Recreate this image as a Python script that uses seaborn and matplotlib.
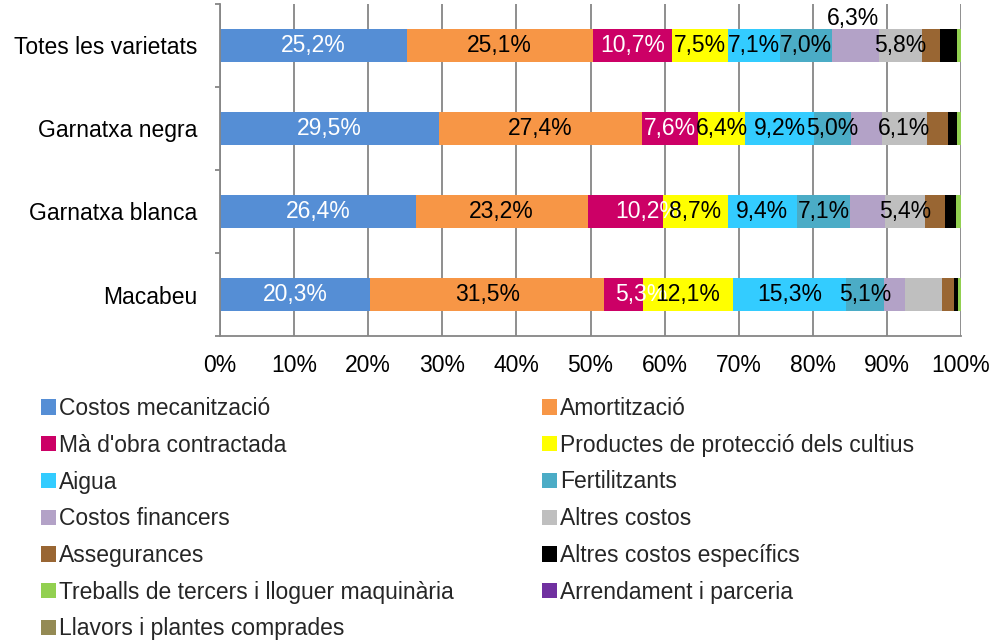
import matplotlib
matplotlib.use("Agg")
import matplotlib.pyplot as plt
from matplotlib.patches import Patch
from matplotlib.ticker import FuncFormatter, FixedLocator
import numpy as np
import pandas as pd
import seaborn as sns

# ---------------- data ----------------
categories = ["Totes les varietats", "Garnatxa negra", "Garnatxa blanca", "Macabeu"]

series_names = [
    "Costos mecanització",
    "Amortització",
    "Mà d'obra contractada",
    "Productes de protecció dels cultius",
    "Aigua",
    "Fertilitzants",
    "Costos financers",
    "Altres costos",
    "Assegurances",
    "Altres costos específics",
    "Treballs de tercers i lloguer maquinària",
    "Arrendament i parceria",
    "Llavors i plantes comprades",
]

costos_mecanitzacio = [25.2, 29.5, 26.4, 20.3]
amortitzacio = [25.1, 27.4, 23.2, 31.5]
ma_obra = [10.7, 7.6, 10.2, 5.3]
productes_proteccio = [7.5, 6.4, 8.7, 12.1]
aigua = [7.1, 9.2, 9.4, 15.3]
fertilitzants = [7.0, 5.0, 7.1, 5.1]
costos_financers = [6.3, 4.2, 4.7, 2.9]
altres_costos = [5.8, 6.1, 5.4, 5.0]
assegurances = [2.4, 2.8, 2.7, 1.5]
altres_costos_especifics = [2.3, 1.3, 1.5, 0.6]
treballs_tercers = [0.6, 0.5, 0.7, 0.4]
arrendament = [0.0, 0.0, 0.0, 0.0]
llavors = [0.0, 0.0, 0.0, 0.0]

x_ticks = [0, 10, 20, 30, 40, 50, 60, 70, 80, 90, 100]

# which data labels are shown (series index -> category indices)
labels_shown = {
    0: [0, 1, 2, 3],
    1: [0, 1, 2, 3],
    2: [0, 1, 2, 3],
    3: [0, 1, 2, 3],
    4: [0, 1, 2, 3],
    5: [0, 1, 2, 3],
    6: [0],
    7: [0, 1, 2],
}

# ---------------- styles ----------------
colors = [
    "#558ED5", "#F79646", "#CC0066", "#FFFF00", "#33CCFF", "#4BACC6",
    "#B3A2C7", "#BFBFBF", "#996633", "#000000", "#92D050", "#7030A0", "#948A54",
]
label_colors = ["white", "black", "white", "black", "black", "black",
                "black", "black"]
# label nudges in points (dx, dy) for a few labels placed off-centre
label_nudges = {(6, 0): (-1.5, 19.5), (2, 2): (16, 0), (2, 3): (13, 0)}

sns.set_style("white")
plt.rcParams["font.family"] = ["Liberation Sans", "DejaVu Sans"]
FS = 16.5
GREY = "#868686"

all_series = [costos_mecanitzacio, amortitzacio, ma_obra, productes_proteccio, aigua,
              fertilitzants, costos_financers, altres_costos, assegurances,
              altres_costos_especifics, treballs_tercers, arrendament, llavors]
vals = np.array(all_series, dtype=float)
cum = np.cumsum(vals, axis=0)

fig = plt.figure(figsize=(9.96, 6.43), dpi=100)
ax = fig.add_axes([220 / 996, 1 - 336 / 643, (961 - 220) / 996, (336 - 4) / 643])

# stacked bars: draw cumulative totals from last series to first
for k in range(len(series_names) - 1, -1, -1):
    df = pd.DataFrame({"cat": categories, "val": cum[k]})
    sns.barplot(data=df, x="val", y="cat", orient="y", color=colors[k],
                saturation=1, width=0.4, linewidth=0, ax=ax, zorder=2)

ax.set_xlim(0, 100)
ax.set_ylim(3.5, -0.5)
ax.set_xlabel("")
ax.set_ylabel("")

ax.xaxis.set_major_locator(FixedLocator(x_ticks))
ax.xaxis.set_major_formatter(FuncFormatter(lambda v, p: f"{v:.0f}%"))
ax.grid(False)
ax.xaxis.grid(True, color=GREY, linewidth=1.3, zorder=0)
ax.set_axisbelow(True)

for s in ["top", "right"]:
    ax.spines[s].set_visible(False)
for s in ["left", "bottom"]:
    ax.spines[s].set_color(GREY)
    ax.spines[s].set_linewidth(1.3)

ax.tick_params(axis="x", which="major", direction="out", length=4.3, width=1.3,
               color=GREY, labelsize=FS, pad=8.5, labelcolor="black")
ax.yaxis.set_minor_locator(FixedLocator([-0.5, 0.5, 1.5, 2.5, 3.5]))
ax.tick_params(axis="y", which="major", length=0, labelsize=FS, pad=16.5,
               labelcolor="black")
ax.tick_params(axis="y", which="minor", direction="out", length=3.6, width=1.3,
               color=GREY, left=True)

# data labels
for k, rows in labels_shown.items():
    for r in rows:
        left = cum[k][r] - vals[k][r]
        xc = left + vals[k][r] / 2
        dx, dy = label_nudges.get((k, r), (0, 0))
        txt = f"{vals[k][r]:.1f}%".replace(".", ",")
        ax.annotate(txt, xy=(xc, r), xytext=(dx, dy), textcoords="offset points",
                    ha="center", va="center", fontsize=FS, color=label_colors[k],
                    zorder=5, annotation_clip=False)

# legend: two columns, row-major order
handles = [Patch(facecolor=c, edgecolor="none") for c in colors]
left_idx = list(range(0, len(series_names), 2))
right_idx = list(range(1, len(series_names), 2))
common = dict(frameon=False, fontsize=FS, handlelength=0.65, handleheight=0.65,
              handletextpad=0.15, labelspacing=0.6, borderpad=0, borderaxespad=0,
              loc="upper left")
leg1 = fig.legend([handles[i] for i in left_idx], [series_names[i] for i in left_idx],
                  bbox_to_anchor=(41 / 996, 1 - 397 / 643), **common)
leg2 = fig.legend([handles[i] for i in right_idx], [series_names[i] for i in right_idx],
                  bbox_to_anchor=(542 / 996, 1 - 397 / 643), **common)

fig.savefig("out.png", dpi=100)
